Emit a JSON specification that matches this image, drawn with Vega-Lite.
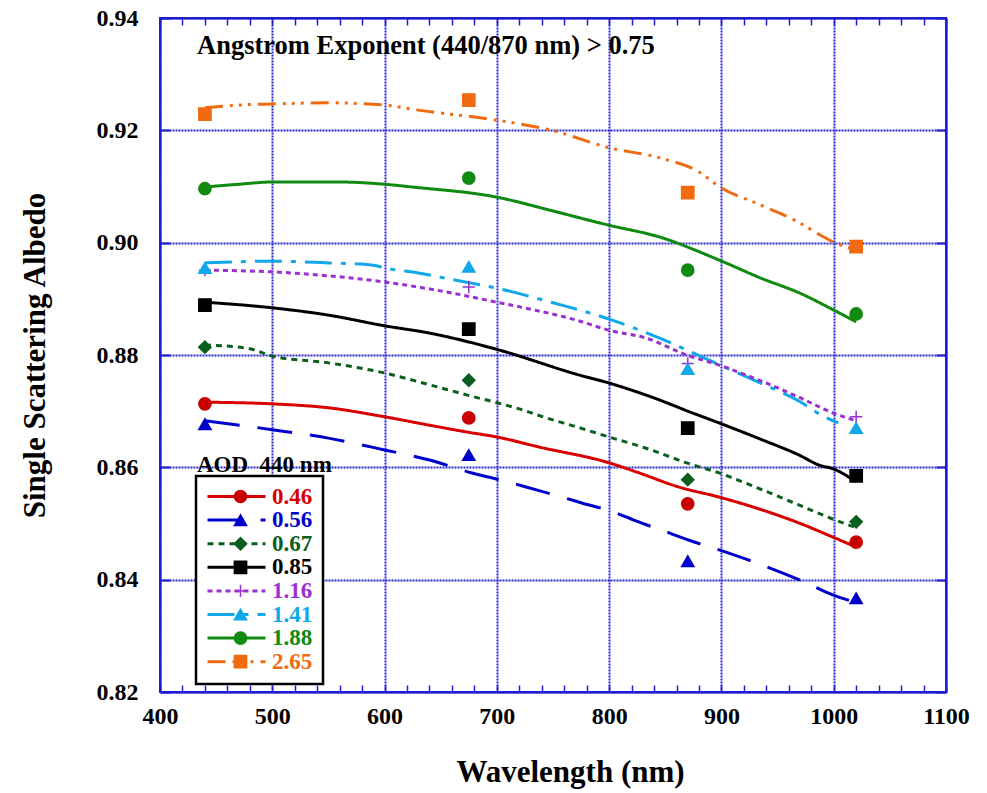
{
  "$schema": "https://vega.github.io/schema/vega-lite/v6.json",
  "width": 786,
  "height": 674,
  "autosize": {"type": "none"},
  "padding": {"left": 160, "top": 18, "right": 41, "bottom": 101},
  "background": "white",
  "config": {
    "font": "Liberation Serif",
    "view": {"stroke": "#1c1cd0", "strokeWidth": 2}
  },
  "title": {
    "text": "Angstrom Exponent (440/870 nm) > 0.75",
    "subtitle": "AOD\u00a0 440 nm",
    "anchor": "start",
    "frame": "group",
    "orient": "top",
    "offset": 0,
    "dx": 37,
    "dy": 471,
    "subtitlePadding": 395,
    "font": "Liberation Serif",
    "fontSize": 26.5,
    "fontWeight": "bold",
    "color": "black",
    "subtitleFont": "Liberation Serif",
    "subtitleFontSize": 23,
    "subtitleFontWeight": "bold",
    "subtitleColor": "black"
  },
  "datasets": {
    "curves": [
      {"aod":"2.65","wl":440,"ssa":0.9240},{"aod":"2.65","wl":470,"ssa":0.9245},{"aod":"2.65","wl":500,"ssa":0.9247},{"aod":"2.65","wl":550,"ssa":0.9249},{"aod":"2.65","wl":600,"ssa":0.9245},{"aod":"2.65","wl":630,"ssa":0.9236},{"aod":"2.65","wl":700,"ssa":0.9218},{"aod":"2.65","wl":747,"ssa":0.9201},{"aod":"2.65","wl":800,"ssa":0.9169},{"aod":"2.65","wl":845,"ssa":0.9151},{"aod":"2.65","wl":880,"ssa":0.9126},{"aod":"2.65","wl":898,"ssa":0.9100},{"aod":"2.65","wl":935,"ssa":0.9067},{"aod":"2.65","wl":970,"ssa":0.9035},{"aod":"2.65","wl":985,"ssa":0.9017},{"aod":"2.65","wl":1000,"ssa":0.9001},{"aod":"2.65","wl":1020,"ssa":0.8987},
      {"aod":"1.88","wl":440,"ssa":0.9099},{"aod":"1.88","wl":470,"ssa":0.9104},{"aod":"1.88","wl":500,"ssa":0.9108},{"aod":"1.88","wl":560,"ssa":0.9108},{"aod":"1.88","wl":600,"ssa":0.9104},{"aod":"1.88","wl":625,"ssa":0.9099},{"aod":"1.88","wl":700,"ssa":0.9081},{"aod":"1.88","wl":747,"ssa":0.9058},{"aod":"1.88","wl":800,"ssa":0.9031},{"aod":"1.88","wl":845,"ssa":0.9010},{"aod":"1.88","wl":898,"ssa":0.8969},{"aod":"1.88","wl":935,"ssa":0.8937},{"aod":"1.88","wl":970,"ssa":0.8910},{"aod":"1.88","wl":1000,"ssa":0.8880},{"aod":"1.88","wl":1020,"ssa":0.8859},
      {"aod":"1.41","wl":440,"ssa":0.8964},{"aod":"1.41","wl":500,"ssa":0.8967},{"aod":"1.41","wl":550,"ssa":0.8964},{"aod":"1.41","wl":590,"ssa":0.8960},{"aod":"1.41","wl":600,"ssa":0.8955},{"aod":"1.41","wl":630,"ssa":0.8946},{"aod":"1.41","wl":661,"ssa":0.8934},{"aod":"1.41","wl":700,"ssa":0.8919},{"aod":"1.41","wl":750,"ssa":0.8893},{"aod":"1.41","wl":800,"ssa":0.8864},{"aod":"1.41","wl":845,"ssa":0.8830},{"aod":"1.41","wl":892,"ssa":0.8788},{"aod":"1.41","wl":935,"ssa":0.8750},{"aod":"1.41","wl":969,"ssa":0.8718},{"aod":"1.41","wl":989,"ssa":0.8693},{"aod":"1.41","wl":1004,"ssa":0.8679},
      {"aod":"1.16","wl":440,"ssa":0.8951},{"aod":"1.16","wl":500,"ssa":0.8948},{"aod":"1.16","wl":550,"ssa":0.8941},{"aod":"1.16","wl":600,"ssa":0.8930},{"aod":"1.16","wl":630,"ssa":0.8921},{"aod":"1.16","wl":661,"ssa":0.8910},{"aod":"1.16","wl":700,"ssa":0.8894},{"aod":"1.16","wl":729,"ssa":0.8882},{"aod":"1.16","wl":771,"ssa":0.8862},{"aod":"1.16","wl":800,"ssa":0.8844},{"aod":"1.16","wl":833,"ssa":0.8830},{"aod":"1.16","wl":869,"ssa":0.8800},{"aod":"1.16","wl":898,"ssa":0.8782},{"aod":"1.16","wl":935,"ssa":0.8754},{"aod":"1.16","wl":969,"ssa":0.8725},{"aod":"1.16","wl":999,"ssa":0.8697},{"aod":"1.16","wl":1020,"ssa":0.8683},
      {"aod":"0.85","wl":440,"ssa":0.8894},{"aod":"0.85","wl":500,"ssa":0.8884},{"aod":"0.85","wl":550,"ssa":0.8871},{"aod":"0.85","wl":600,"ssa":0.8852},{"aod":"0.85","wl":640,"ssa":0.8839},{"aod":"0.85","wl":700,"ssa":0.8810},{"aod":"0.85","wl":774,"ssa":0.8764},{"aod":"0.85","wl":800,"ssa":0.8750},{"aod":"0.85","wl":838,"ssa":0.8725},{"aod":"0.85","wl":874,"ssa":0.8697},{"aod":"0.85","wl":898,"ssa":0.8679},{"aod":"0.85","wl":935,"ssa":0.8650},{"aod":"0.85","wl":969,"ssa":0.8622},{"aod":"0.85","wl":987,"ssa":0.8604},{"aod":"0.85","wl":1000,"ssa":0.8597},{"aod":"0.85","wl":1020,"ssa":0.8574},
      {"aod":"0.67","wl":440,"ssa":0.8818},{"aod":"0.67","wl":480,"ssa":0.8811},{"aod":"0.67","wl":500,"ssa":0.8798},{"aod":"0.67","wl":550,"ssa":0.8786},{"aod":"0.67","wl":600,"ssa":0.8768},{"aod":"0.67","wl":640,"ssa":0.8747},{"aod":"0.67","wl":673,"ssa":0.8729},{"aod":"0.67","wl":700,"ssa":0.8715},{"aod":"0.67","wl":720,"ssa":0.8704},{"aod":"0.67","wl":744,"ssa":0.8688},{"aod":"0.67","wl":771,"ssa":0.8672},{"aod":"0.67","wl":800,"ssa":0.8654},{"aod":"0.67","wl":833,"ssa":0.8634},{"aod":"0.67","wl":869,"ssa":0.8608},{"aod":"0.67","wl":898,"ssa":0.8590},{"aod":"0.67","wl":935,"ssa":0.8561},{"aod":"0.67","wl":969,"ssa":0.8533},{"aod":"0.67","wl":999,"ssa":0.8508},{"aod":"0.67","wl":1018,"ssa":0.8494},
      {"aod":"0.46","wl":440,"ssa":0.8716},{"aod":"0.46","wl":500,"ssa":0.8713},{"aod":"0.46","wl":550,"ssa":0.8706},{"aod":"0.46","wl":600,"ssa":0.8690},{"aod":"0.46","wl":640,"ssa":0.8675},{"aod":"0.46","wl":673,"ssa":0.8663},{"aod":"0.46","wl":700,"ssa":0.8654},{"aod":"0.46","wl":738,"ssa":0.8636},{"aod":"0.46","wl":800,"ssa":0.8608},{"aod":"0.46","wl":824,"ssa":0.8592},{"aod":"0.46","wl":862,"ssa":0.8565},{"aod":"0.46","wl":898,"ssa":0.8547},{"aod":"0.46","wl":935,"ssa":0.8525},{"aod":"0.46","wl":969,"ssa":0.8501},{"aod":"0.46","wl":999,"ssa":0.8476},{"aod":"0.46","wl":1020,"ssa":0.8458},
      {"aod":"0.56","wl":440,"ssa":0.8683},{"aod":"0.56","wl":500,"ssa":0.8667},{"aod":"0.56","wl":550,"ssa":0.8652},{"aod":"0.56","wl":600,"ssa":0.8631},{"aod":"0.56","wl":640,"ssa":0.8613},{"aod":"0.56","wl":678,"ssa":0.8590},{"aod":"0.56","wl":710,"ssa":0.8574},{"aod":"0.56","wl":726,"ssa":0.8565},{"aod":"0.56","wl":758,"ssa":0.8547},{"aod":"0.56","wl":775,"ssa":0.8537},{"aod":"0.56","wl":806,"ssa":0.8519},{"aod":"0.56","wl":822,"ssa":0.8506},{"aod":"0.56","wl":854,"ssa":0.8483},{"aod":"0.56","wl":870,"ssa":0.8471},{"aod":"0.56","wl":898,"ssa":0.8453},{"aod":"0.56","wl":935,"ssa":0.8427},{"aod":"0.56","wl":969,"ssa":0.8400},{"aod":"0.56","wl":999,"ssa":0.8373},{"aod":"0.56","wl":1020,"ssa":0.8359}
    ],
    "obs": [
      {"aod":"0.46","wl":440,"ssa":0.8713},{"aod":"0.46","wl":675,"ssa":0.8688},{"aod":"0.46","wl":870,"ssa":0.8535},{"aod":"0.46","wl":1020,"ssa":0.8467},
      {"aod":"0.56","wl":440,"ssa":0.8677},{"aod":"0.56","wl":675,"ssa":0.8622},{"aod":"0.56","wl":870,"ssa":0.8433},{"aod":"0.56","wl":1020,"ssa":0.8367},
      {"aod":"0.67","wl":440,"ssa":0.8814},{"aod":"0.67","wl":675,"ssa":0.8755},{"aod":"0.67","wl":870,"ssa":0.8578},{"aod":"0.67","wl":1020,"ssa":0.8503},
      {"aod":"0.85","wl":440,"ssa":0.8889},{"aod":"0.85","wl":675,"ssa":0.8846},{"aod":"0.85","wl":870,"ssa":0.8670},{"aod":"0.85","wl":1020,"ssa":0.8585},
      {"aod":"1.16","wl":440,"ssa":0.8951},{"aod":"1.16","wl":675,"ssa":0.8921},{"aod":"1.16","wl":870,"ssa":0.8785},{"aod":"1.16","wl":1020,"ssa":0.8690},
      {"aod":"1.41","wl":440,"ssa":0.8955},{"aod":"1.41","wl":675,"ssa":0.8957},{"aod":"1.41","wl":870,"ssa":0.8775},{"aod":"1.41","wl":1020,"ssa":0.8670},
      {"aod":"1.88","wl":440,"ssa":0.9096},{"aod":"1.88","wl":675,"ssa":0.9115},{"aod":"1.88","wl":870,"ssa":0.8951},{"aod":"1.88","wl":1020,"ssa":0.8873},
      {"aod":"2.65","wl":440,"ssa":0.9229},{"aod":"2.65","wl":675,"ssa":0.9254},{"aod":"2.65","wl":870,"ssa":0.9089},{"aod":"2.65","wl":1020,"ssa":0.8993}
    ]
  },
  "resolve": {"axis": {"x": "independent", "y": "independent"}},
  "layer": [
    {
      "data": {"name": "curves"},
      "mark": {"type": "line", "interpolate": "monotone"},
      "encoding": {
        "x": {
          "field": "wl", "type": "quantitative",
          "scale": {"domain": [400, 1100], "nice": false, "zero": false},
          "axis": {
            "orient": "bottom",
            "values": [400, 500, 600, 700, 800, 900, 1000, 1100],
            "format": "d",
            "grid": true, "gridColor": "#2828d2", "gridDash": [2, 1], "gridWidth": 2,
            "ticks": false,
            "domain": true, "domainColor": "#1c1cd0", "domainWidth": 2,
            "labelFont": "Liberation Serif", "labelFontSize": 24, "labelFontWeight": "bold", "labelColor": "black",
            "labelPadding": 12, "labelFlush": false, "labelOverlap": false,
            "title": "Wavelength (nm)",
            "titleFont": "Liberation Serif", "titleFontSize": 31, "titleFontWeight": "bold", "titleColor": "black",
            "titlePadding": 29, "titleX": 410, "titleAlign": "center"
          }
        },
        "y": {
          "field": "ssa", "type": "quantitative",
          "scale": {"domain": [0.82, 0.94], "nice": false, "zero": false},
          "axis": {
            "orient": "left",
            "values": [0.82, 0.84, 0.86, 0.88, 0.9, 0.92, 0.94],
            "format": ".2f",
            "grid": true, "gridColor": "#2828d2", "gridDash": [2, 1], "gridWidth": 2,
            "ticks": true, "tickSize": -10, "tickColor": "#1c1cd0", "tickWidth": 2,
            "domain": true, "domainColor": "#1c1cd0", "domainWidth": 2,
            "labelFont": "Liberation Serif", "labelFontSize": 24, "labelFontWeight": "bold", "labelColor": "black",
            "labelPadding": 32, "labelFlush": false, "labelOverlap": false,
            "title": "Single Scattering Albedo",
            "titleFont": "Liberation Serif", "titleFontSize": 31, "titleFontWeight": "bold", "titleColor": "black",
            "titlePadding": 45
          }
        },
        "color": {
          "field": "aod", "type": "nominal",
          "scale": {
            "domain": ["0.46", "0.56", "0.67", "0.85", "1.16", "1.41", "1.88", "2.65"],
            "range": ["#d80000", "#0000cc", "#0b5e1e", "#000000", "#9a30d0", "#10a8e8", "#108a10", "#f06a10"]
          },
          "legend": {
            "orient": "none", "legendX": 36, "legendY": 458, "zindex": 1,
            "title": null, "direction": "vertical",
            "symbolType": "stroke", "symbolSize": 3364, "clipHeight": 21, "rowPadding": -0.4,
            "labelFont": "Liberation Serif", "labelFontSize": 23, "labelFontWeight": "bold",
            "labelOffset": 5, "padding": 10,
            "strokeColor": "black", "fillColor": "white",
            "encode": {
              "legend": {"update": {"strokeWidth": {"value": 2.5}}},
              "labels": {"update": {"fill": {"signal": "scale('color', datum.value)"}}},
              "symbols": {"update": {
                "stroke": {"signal": "scale('color', datum.value)"},
                "strokeWidth": {"signal": "indexof(['1.41','1.88','2.65'], datum.value) >= 0 ? 1.5 : 3"},
                "opacity": {"value": 1}
              }}
            }
          }
        },
        "strokeDash": {
          "field": "aod", "type": "nominal",
          "scale": {
            "domain": ["0.46", "0.56", "0.67", "0.85", "1.16", "1.41", "1.88", "2.65"],
            "range": [[1, 0], [35, 18], [6, 5], [1, 0], [5, 4], [27, 9, 5, 9], [1, 0], [18, 7, 3, 6, 3, 6, 3, 7]]
          },
          "legend": {
            "orient": "none", "legendX": 36, "legendY": 458, "zindex": 1,
            "title": null, "direction": "vertical",
            "symbolType": "stroke", "symbolSize": 3364, "clipHeight": 21, "rowPadding": -0.4,
            "labelFont": "Liberation Serif", "labelFontSize": 23, "labelFontWeight": "bold",
            "labelOffset": 5, "padding": 10,
            "strokeColor": "black", "fillColor": "white"
          }
        },
        "strokeWidth": {
          "field": "aod", "type": "ordinal",
          "scale": {
            "domain": ["0.46", "0.56", "0.67", "0.85", "1.16", "1.41", "1.88", "2.65"],
            "range": [3, 3, 3, 3.5, 3, 1.5, 1.5, 1.5]
          },
          "legend": null
        }
      }
    },
    {
      "data": {"name": "obs"},
      "mark": {"type": "point", "filled": true, "size": 150, "strokeWidth": 1.5, "opacity": 1},
      "encoding": {
        "x": {
          "field": "wl", "type": "quantitative",
          "axis": {
            "orient": "top",
            "values": [400,420,440,460,480,500,520,540,560,580,600,620,640,660,680,700,720,740,760,780,800,820,840,860,880,900,920,940,960,980,1000,1020,1040,1060,1080,1100],
            "grid": false, "labels": false, "title": null,
            "ticks": true, "tickSize": -7, "tickColor": "#1c1cd0", "tickWidth": 1.5,
            "domain": true, "domainColor": "#1c1cd0", "domainWidth": 2
          }
        },
        "y": {
          "field": "ssa", "type": "quantitative",
          "axis": {
            "orient": "right",
            "values": [0.82, 0.84, 0.86, 0.88, 0.9, 0.92, 0.94],
            "grid": false, "labels": false, "title": null,
            "ticks": true, "tickSize": -10, "tickColor": "#1c1cd0", "tickWidth": 2,
            "domain": true, "domainColor": "#1c1cd0", "domainWidth": 2
          }
        },
        "fill": {
          "field": "aod", "type": "nominal",
          "scale": {
            "range": ["#c80000", "#0000cc", "#0b5e1e", "#000000", "#9a30d0", "#10a8e8", "#108a10", "#f06a10"]
          },
          "legend": {
            "orient": "none", "legendX": 59, "legendY": 458, "zindex": 2,
            "title": null, "direction": "vertical",
            "symbolSize": 150, "clipHeight": 21, "rowPadding": -0.4,
            "labelFont": "Liberation Serif", "labelFontSize": 23, "labelFontWeight": "bold",
            "labelExpr": "' '", "labelOffset": 5, "padding": 10,
            "symbolOpacity": 1, "symbolStrokeWidth": 1.5
          }
        },
        "stroke": {
          "field": "aod", "type": "nominal",
          "scale": {
            "range": ["#c80000", "#0000cc", "#0b5e1e", "#000000", "#9a30d0", "#10a8e8", "#108a10", "#f06a10"]
          },
          "legend": {
            "orient": "none", "legendX": 59, "legendY": 458, "zindex": 2,
            "title": null, "direction": "vertical",
            "symbolSize": 150, "clipHeight": 21, "rowPadding": -0.4,
            "labelFont": "Liberation Serif", "labelFontSize": 23, "labelFontWeight": "bold",
            "labelExpr": "' '", "labelOffset": 5, "padding": 10,
            "symbolOpacity": 1, "symbolStrokeWidth": 1.5
          }
        },
        "shape": {
          "field": "aod", "type": "nominal",
          "scale": {
            "range": ["circle", "triangle-up", "diamond", "square", "M-1,0H1M0,-1V1", "triangle-up", "circle", "square"]
          },
          "legend": {
            "orient": "none", "legendX": 59, "legendY": 458, "zindex": 2,
            "title": null, "direction": "vertical",
            "symbolSize": 150, "clipHeight": 21, "rowPadding": -0.4,
            "labelFont": "Liberation Serif", "labelFontSize": 23, "labelFontWeight": "bold",
            "labelExpr": "' '", "labelOffset": 5, "padding": 10,
            "symbolOpacity": 1, "symbolStrokeWidth": 1.5
          }
        }
      }
    },
    {
      "data": {"name": "obs"},
      "mark": {"type": "point", "opacity": 0},
      "encoding": {
        "x": {
          "field": "wl", "type": "quantitative",
          "axis": {
            "orient": "bottom",
            "values": [400,420,440,460,480,500,520,540,560,580,600,620,640,660,680,700,720,740,760,780,800,820,840,860,880,900,920,940,960,980,1000,1020,1040,1060,1080,1100],
            "grid": false, "labels": false, "title": null,
            "ticks": true, "tickSize": -7, "tickColor": "#1c1cd0", "tickWidth": 1.5,
            "domain": false
          }
        },
        "y": {"field": "ssa", "type": "quantitative", "axis": null}
      }
    }
  ]
}
